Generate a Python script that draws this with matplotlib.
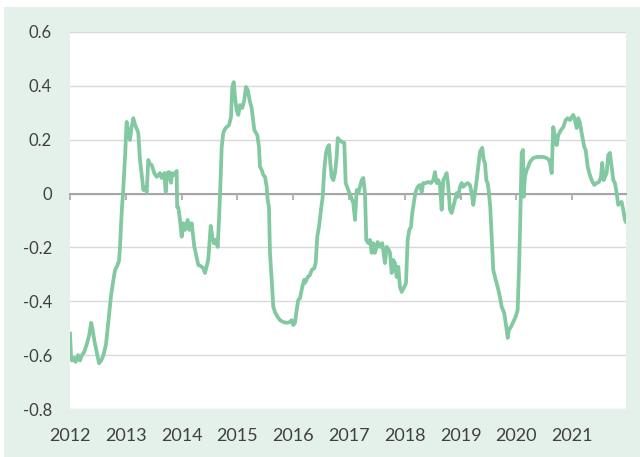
import matplotlib.pyplot as plt
from matplotlib.patches import Rectangle
from matplotlib.ticker import FuncFormatter

plt.rcParams['font.family'] = ['Lato', 'DejaVu Sans']

# ---------------------------------------------------------------------------
# Data (decimal year, value)
# ---------------------------------------------------------------------------
years = [
    2012.000, 2012.018, 2012.036, 2012.072, 2012.100, 2012.143, 2012.179, 2012.215,
    2012.251, 2012.300, 2012.340, 2012.380, 2012.400, 2012.440, 2012.480, 2012.520,
    2012.560, 2012.600, 2012.645, 2012.699, 2012.735, 2012.771, 2012.806, 2012.842,
    2012.878, 2012.896, 2012.914, 2012.932, 2012.950, 2012.968, 2012.990, 2013.004,
    2013.016, 2013.045, 2013.075, 2013.100, 2013.134, 2013.160, 2013.183, 2013.224,
    2013.254, 2013.296, 2013.314, 2013.344, 2013.375, 2013.403, 2013.430, 2013.464,
    2013.511, 2013.554, 2013.613, 2013.642, 2013.690, 2013.715, 2013.738, 2013.774,
    2013.810, 2013.833, 2013.869, 2013.912, 2013.920, 2013.941, 2013.971, 2014.002,
    2014.030, 2014.061, 2014.109, 2014.138, 2014.181, 2014.228, 2014.253, 2014.299,
    2014.348, 2014.389, 2014.419, 2014.450, 2014.478, 2014.522, 2014.550, 2014.581,
    2014.611, 2014.647, 2014.670, 2014.694, 2014.719, 2014.747, 2014.778, 2014.808,
    2014.849, 2014.885, 2014.909, 2014.934, 2014.957, 2014.987, 2015.016, 2015.047,
    2015.088, 2015.124, 2015.154, 2015.185, 2015.226, 2015.256, 2015.303, 2015.357,
    2015.387, 2015.405, 2015.435, 2015.464, 2015.495, 2015.525, 2015.543, 2015.566,
    2015.584, 2015.615, 2015.643, 2015.674, 2015.722, 2015.763, 2015.823, 2015.884,
    2015.943, 2015.973, 2016.002, 2016.032, 2016.063, 2016.091, 2016.122, 2016.163,
    2016.199, 2016.211, 2016.260, 2016.301, 2016.332, 2016.378, 2016.403, 2016.432,
    2016.462, 2016.498, 2016.529, 2016.557, 2016.588, 2016.618, 2016.642, 2016.665,
    2016.690, 2016.719, 2016.749, 2016.780, 2016.798, 2016.826, 2016.869, 2016.916,
    2016.941, 2016.987, 2017.036, 2017.077, 2017.108, 2017.138, 2017.167, 2017.197,
    2017.228, 2017.256, 2017.287, 2017.310, 2017.346, 2017.376, 2017.407, 2017.435,
    2017.466, 2017.514, 2017.556, 2017.597, 2017.645, 2017.676, 2017.717, 2017.735,
    2017.765, 2017.794, 2017.824, 2017.855, 2017.884, 2017.914, 2017.944, 2017.991,
    2018.022, 2018.052, 2018.081, 2018.111, 2018.134, 2018.170, 2018.195, 2018.231,
    2018.272, 2018.303, 2018.332, 2018.375, 2018.421, 2018.470, 2018.511, 2018.541,
    2018.572, 2018.600, 2018.631, 2018.661, 2018.690, 2018.720, 2018.751, 2018.780,
    2018.810, 2018.840, 2018.869, 2018.900, 2018.930, 2018.959, 2018.989, 2019.020,
    2019.048, 2019.079, 2019.127, 2019.168, 2019.199, 2019.228, 2019.258, 2019.289,
    2019.317, 2019.348, 2019.389, 2019.414, 2019.437, 2019.461, 2019.486, 2019.509,
    2019.532, 2019.557, 2019.586, 2019.629, 2019.665, 2019.706, 2019.737, 2019.783,
    2019.826, 2019.844, 2019.867, 2019.903, 2019.944, 2019.987, 2020.023, 2020.047,
    2020.070, 2020.095, 2020.118, 2020.131, 2020.154, 2020.185, 2020.213, 2020.244,
    2020.303, 2020.364, 2020.423, 2020.482, 2020.543, 2020.584, 2020.602, 2020.633,
    2020.661, 2020.692, 2020.722, 2020.751, 2020.799, 2020.841, 2020.884, 2020.919,
    2020.961, 2020.991, 2021.020, 2021.050, 2021.081, 2021.109, 2021.140, 2021.170,
    2021.217, 2021.242, 2021.278, 2021.307, 2021.349, 2021.396, 2021.439, 2021.480,
    2021.516, 2021.539, 2021.564, 2021.588, 2021.618, 2021.647, 2021.677, 2021.708,
    2021.737, 2021.767, 2021.797, 2021.826, 2021.857, 2021.887, 2021.916, 2021.946,
    2021.964,
]
values = [
    -0.520, -0.600, -0.620, -0.610, -0.625, -0.600, -0.620, -0.600,
    -0.590, -0.560, -0.530, -0.480, -0.500, -0.550, -0.590, -0.630,
    -0.620, -0.600, -0.560, -0.450, -0.380, -0.330, -0.285, -0.270,
    -0.250, -0.200, -0.120, -0.050, 0.000, 0.070, 0.150, 0.220,
    0.266, 0.230, 0.199, 0.240, 0.280, 0.260, 0.247, 0.225,
    0.125, 0.050, 0.013, 0.025, 0.006, 0.125, 0.110, 0.106,
    0.076, 0.062, 0.076, 0.058, 0.076, 0.006, 0.076, 0.080,
    0.040, 0.076, 0.069, 0.084, -0.050, -0.050, -0.098, -0.160,
    -0.110, -0.135, -0.098, -0.135, -0.110, -0.198, -0.220, -0.265,
    -0.270, -0.277, -0.295, -0.270, -0.245, -0.120, -0.160, -0.185,
    -0.172, -0.198, -0.098, 0.025, 0.173, 0.225, 0.240, 0.247,
    0.254, 0.284, 0.396, 0.414, 0.359, 0.310, 0.292, 0.329,
    0.318, 0.348, 0.396, 0.385, 0.340, 0.318, 0.236, 0.217,
    0.173, 0.100, 0.088, 0.069, 0.062, 0.025, -0.024, -0.050,
    -0.220, -0.320, -0.420, -0.440, -0.458, -0.470, -0.477, -0.480,
    -0.477, -0.470, -0.488, -0.480, -0.432, -0.395, -0.388, -0.347,
    -0.320, -0.332, -0.310, -0.302, -0.284, -0.277, -0.258, -0.160,
    -0.124, -0.060, -0.012, 0.088, 0.151, 0.173, 0.180, 0.114,
    0.062, 0.050, 0.076, 0.136, 0.206, 0.199, 0.192, 0.188,
    0.039, 0.013, -0.012, -0.035, -0.098, 0.013, 0.002, 0.025,
    0.050, 0.058, 0.002, -0.172, -0.184, -0.172, -0.220, -0.184,
    -0.220, -0.180, -0.198, -0.184, -0.258, -0.198, -0.210, -0.220,
    -0.295, -0.247, -0.258, -0.310, -0.272, -0.347, -0.365, -0.347,
    -0.332, -0.172, -0.135, -0.124, -0.072, -0.024, 0.006, 0.025,
    0.032, 0.006, 0.039, 0.039, 0.043, 0.039, 0.050, 0.080,
    0.039, 0.050, 0.032, -0.060, 0.050, 0.062, 0.076, 0.025,
    -0.060, -0.072, -0.050, -0.024, 0.002, -0.012, 0.025, 0.039,
    0.025, 0.032, 0.039, 0.032, 0.002, -0.042, 0.002, 0.050,
    0.100, 0.155, 0.170, 0.125, 0.114, 0.050, 0.039, 0.002,
    -0.050, -0.160, -0.284, -0.320, -0.347, -0.384, -0.420, -0.444,
    -0.506, -0.536, -0.506, -0.495, -0.477, -0.458, -0.432, -0.284,
    -0.098, 0.151, 0.162, -0.012, 0.062, 0.088, 0.100, 0.118,
    0.132, 0.136, 0.136, 0.136, 0.132, 0.125, 0.114, 0.076,
    0.247, 0.210, 0.180, 0.217, 0.236, 0.247, 0.273, 0.280,
    0.273, 0.284, 0.292, 0.273, 0.243, 0.280, 0.262, 0.225,
    0.173, 0.162, 0.100, 0.076, 0.050, 0.032, 0.039, 0.043,
    0.062, 0.114, 0.050, 0.062, 0.076, 0.143, 0.151, 0.100,
    0.050, 0.039, 0.002, -0.042, -0.035, -0.031, -0.060, -0.098,
    -0.105,
]
year_ticks = list(range(2012, 2022))
y_ticks = [-0.8, -0.6, -0.4, -0.2, 0.0, 0.2, 0.4, 0.6]

# ---------------------------------------------------------------------------
# Figure
# ---------------------------------------------------------------------------
fig = plt.figure(figsize=(6.4, 4.57), dpi=100, facecolor='white')
fig.patches.append(Rectangle((4 / 640, 0), 1 - 4 / 640, 1 - 7 / 457,
                             transform=fig.transFigure, facecolor='#e4f1ea',
                             edgecolor='none', zorder=-10))

ax = fig.add_axes([70 / 640, 48 / 457, 556 / 640, 377 / 457])
ax.set_facecolor('white')

ax.plot(years, values, color='#82c8a0', linewidth=2.7, solid_joinstyle='round',
        zorder=3)

ax.set_xlim(2012, 2021.965)
ax.set_ylim(-0.8, 0.6)

# horizontal gridlines
ax.set_yticks(y_ticks)
ax.yaxis.grid(True, color='#d9d9d9', linewidth=1.0)
ax.set_axisbelow(True)
ax.yaxis.set_major_formatter(FuncFormatter(lambda v, p: '0' if abs(v) < 1e-9 else f'{v:.1f}'))
ax.tick_params(axis='y', length=0, pad=13, labelsize=12, labelcolor='#404040')

for s in ['top', 'right', 'left']:
    ax.spines[s].set_visible(False)

# zero line with year tick marks
ax.spines['bottom'].set_position(('data', 0))
ax.spines['bottom'].set_color('#a6a6a6')
ax.spines['bottom'].set_linewidth(1.5)
ax.spines['bottom'].set_zorder(2)
ax.set_xticks(year_ticks)
ax.tick_params(axis='x', direction='out', length=4, width=1.2, color='#a6a6a6',
               labelbottom=False)

# year labels along the bottom edge
sec = ax.secondary_xaxis(0.0)
sec.set_xticks(year_ticks)
sec.set_xticklabels([str(y) for y in year_ticks])
sec.spines['bottom'].set_visible(False)
sec.tick_params(length=0, pad=14, labelsize=13, labelcolor='#404040')

fig.savefig('out.png', dpi=100, facecolor=fig.get_facecolor())
